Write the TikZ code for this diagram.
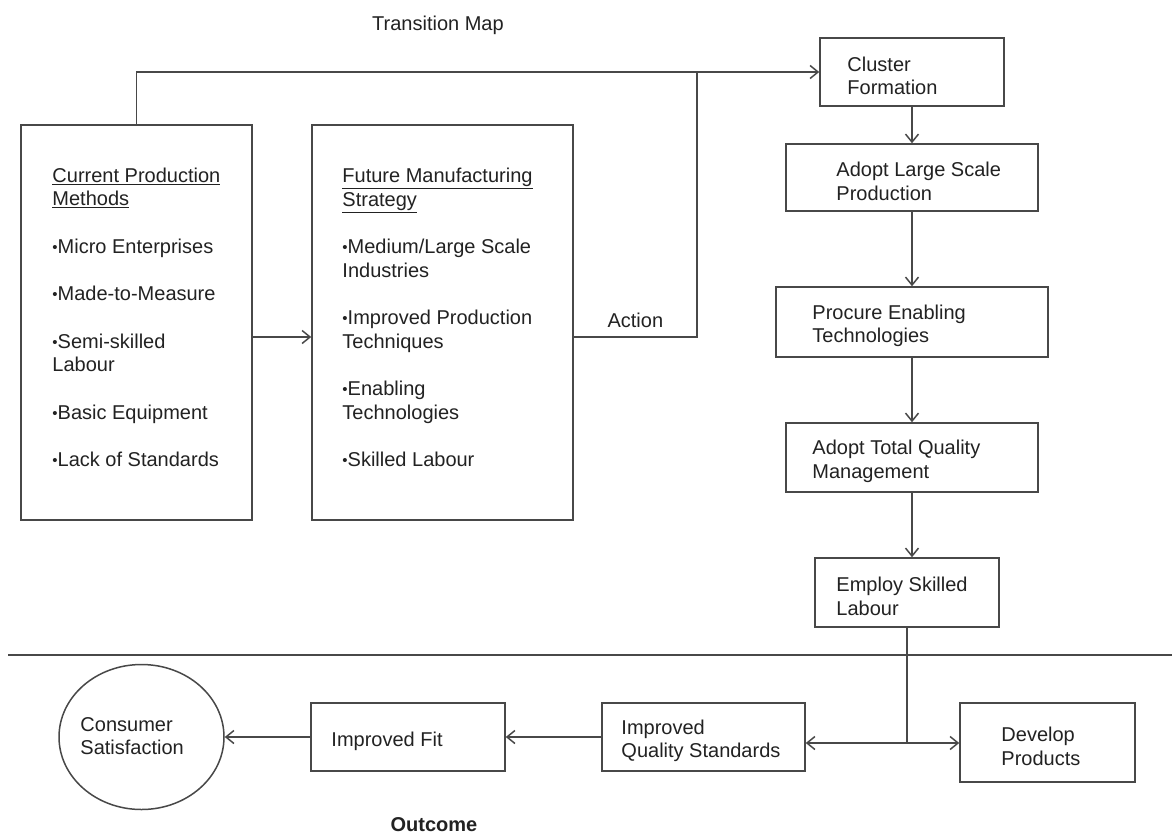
\documentclass[tikz,border=0pt]{standalone}
\usepackage{fontspec}
\setmainfont{Liberation Sans}
\usetikzlibrary{arrows.meta,shapes.geometric}
\definecolor{linegray}{HTML}{484848}
\definecolor{txtgray}{HTML}{222222}
\newcommand{\bul}{{\fontsize{15}{15}\selectfont\raisebox{1pt}{\textbullet}}}
\begin{document}
\begin{tikzpicture}[x=1pt,y=-1pt,>={Straight Barb[length=8pt,width=13pt]},
  flowbox/.style={draw=linegray,line width=1.5pt,rectangle,inner sep=0pt},
  boxtext/.style={anchor=west,align=left,text=txtgray,inner sep=0pt,yshift=-4pt},
  conn/.style={draw=linegray,line width=1.5pt}]
\fontsize{20}{23.5}\selectfont
\fill[white] (0,0) rectangle (1172,836);
\useasboundingbox (0,0) rectangle (1172,836);

% titles
\node[text=txtgray] (title) at (438,25) {Transition Map};
\node[text=txtgray,font=\bfseries] (outcome) at (434,825) {Outcome};

% the two big boxes
\node[flowbox,minimum width=231pt,minimum height=395pt,
  label={[boxtext,xshift=32pt,yshift=9pt]west:{\underline{Current Production}\\\underline{Methods}\\[24pt]
  \bul Micro Enterprises\\[24pt]\bul Made-to-Measure\\[24pt]\bul Semi-skilled\\Labour\\[24pt]
  \bul Basic Equipment\\[24pt]\bul Lack of Standards}}] (current) at (136.5,322.5) {};
\node[flowbox,minimum width=261pt,minimum height=395pt,
  label={[boxtext,xshift=31pt,yshift=9pt]west:{\underline{Future Manufacturing}\\\underline{Strategy}\\[24pt]
  \bul Medium/Large Scale\\Industries\\[24pt]\bul Improved Production\\Techniques\\[24pt]
  \bul Enabling\\Technologies\\[24pt]\bul Skilled Labour}}] (future) at (442.5,322.5) {};

% action column
\node[flowbox,minimum width=184pt,minimum height=68pt,
  label={[boxtext,xshift=28pt]west:{Cluster\\Formation}}] (cluster) at (912,72) {};
\node[flowbox,minimum width=252pt,minimum height=67pt,
  label={[boxtext,xshift=51pt]west:{Adopt Large Scale\\Production}}] (adopt) at (912,177.5) {};
\node[flowbox,minimum width=272pt,minimum height=70pt,
  label={[boxtext,xshift=37pt]west:{Procure Enabling\\Technologies}}] (procure) at (912,322) {};
\node[flowbox,minimum width=252pt,minimum height=69pt,
  label={[boxtext,xshift=27pt]west:{Adopt Total Quality\\Management}}] (tqm) at (912,457.5) {};
\node[flowbox,minimum width=184pt,minimum height=69pt,
  label={[boxtext,xshift=22pt]west:{Employ Skilled\\Labour}}] (employ) at (907,592.5) {};

% outcome row
\node[flowbox,minimum width=175pt,minimum height=79pt,
  label={[boxtext,xshift=42pt,yshift=0pt]west:{Develop\\Products}}] (develop) at (1047.5,742.5) {};
\node[flowbox,minimum width=203pt,minimum height=68pt,
  label={[boxtext,xshift=20pt]west:{Improved\\Quality Standards}}] (iqs) at (703.5,737) {};
\node[flowbox,minimum width=194pt,minimum height=68pt,
  label={[boxtext,xshift=21pt]west:{Improved Fit}}] (fit) at (408,737) {};
\node[flowbox,ellipse,minimum width=165pt,minimum height=145pt,
  label={[boxtext,xshift=22pt,yshift=5pt]west:{Consumer\\Satisfaction}}] (consumer) at (141.5,737) {};

\coordinate (mid) at (0,337);
\coordinate (join) at (697,72);
\coordinate (split) at (907,743);

\path[conn,->] (current.east |- mid) -- (future.west |- mid);
\path[conn] (future.east |- mid) -| node[pos=0.25,above=2pt,text=txtgray] {Action} (join);
\path[conn,->] (current.north) |- (cluster.west);

\path[conn,->] (cluster.south) -- (adopt.north);
\path[conn,->] (adopt.south) -- (procure.north);
\path[conn,->] (procure.south) -- (tqm.north);
\path[conn,->] (tqm.south) -- (tqm.south |- employ.north);

% divider
\path[conn] (8,655) -- (1172,655);

\path[conn] (employ.south) -- (split);
\path[conn,->] (split) -- (iqs.east |- split);
\path[conn,->] (split) -- (develop.west |- split);
\path[conn,->] (iqs) -- (fit);
\path[conn,->] (fit) -- (consumer);
\end{tikzpicture}
\end{document}
